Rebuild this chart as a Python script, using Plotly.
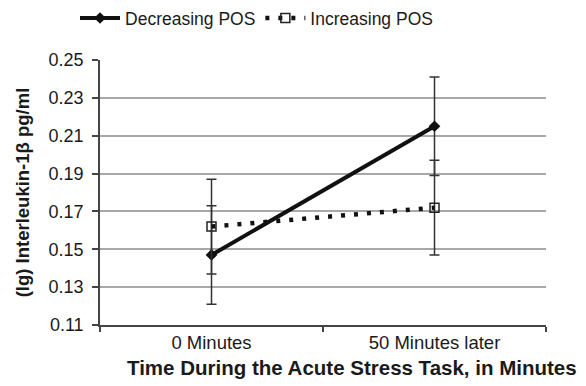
import plotly.graph_objects as go

categories = ["0 Minutes", "50 Minutes later"]
decreasing_pos = [0.147, 0.215]
decreasing_err = [0.026, 0.026]
increasing_pos = [0.162, 0.172]
increasing_err = [0.025, 0.025]
y_ticks = [0.11, 0.13, 0.15, 0.17, 0.19, 0.21, 0.23, 0.25]

FONT = "Liberation Sans, Arial, sans-serif"
TXT = "#1a1a1a"

fig = go.Figure()
fig.add_trace(go.Scatter(
    x=categories, y=decreasing_pos, name="Decreasing POS", mode="lines+markers",
    line=dict(color="#111111", width=4),
    marker=dict(symbol="diamond", size=9, color="#111111"),
    error_y=dict(type="data", array=decreasing_err, visible=True, color="#333333", thickness=1.5, width=5),
))
fig.add_trace(go.Scatter(
    x=categories, y=increasing_pos, name="Increasing POS", mode="lines+markers",
    line=dict(color="#111111", width=4.5, dash="4px,9px"),
    marker=dict(symbol="square-open", size=9, color="#222222", line=dict(width=1.5)),
    error_y=dict(type="data", array=increasing_err, visible=True, color="#333333", thickness=1.5, width=5),
))

fig.update_layout(
    width=586, height=386,
    margin=dict(l=100, r=40, t=60, b=61, autoexpand=False),
    paper_bgcolor="white", plot_bgcolor="white",
    font=dict(family=FONT, size=17, color=TXT),
    showlegend=True,
    legend=dict(orientation="h", xref="container", yref="container",
                x=0.128, xanchor="left", y=0.953, yanchor="middle",
                font=dict(size=17.5, color=TXT), itemwidth=40,
                bgcolor="rgba(0,0,0,0)"),
    xaxis=dict(type="category", range=[-0.5, 1.5], tickson="boundaries", automargin=False,
               showline=True, linecolor="#444444", linewidth=1.5,
               ticks="outside", ticklen=5, tickcolor="#444444", tickwidth=1.5,
               showgrid=False, tickfont=dict(size=18.5, color=TXT), fixedrange=True),
    yaxis=dict(range=[0.11, 0.25], tickvals=y_ticks, tickformat=".2f", automargin=False,
               showline=True, linecolor="#444444", linewidth=1.5,
               ticks="outside", ticklen=6, tickcolor="#444444", tickwidth=1.5,
               ticklabelstandoff=5,
               showgrid=True, gridcolor="#a8a8a8", gridwidth=1.5, zeroline=False,
               tickfont=dict(size=18, color=TXT),
               title=dict(text="<b>(lg) Interleukin-1β pg/ml</b>", font=dict(size=18.5, color=TXT), standoff=14)),
)
fig.add_annotation(text="<b>Time During the Acute Stress Task, in Minutes</b>",
                   xref="paper", yref="paper", x=0.565, y=-0.16,
                   xanchor="center", yanchor="middle", showarrow=False,
                   font=dict(size=20.5, color=TXT, family=FONT))

fig.write_html("out.html", config={"displayModeBar": False},
               post_script="document.body.style.margin='0';")
